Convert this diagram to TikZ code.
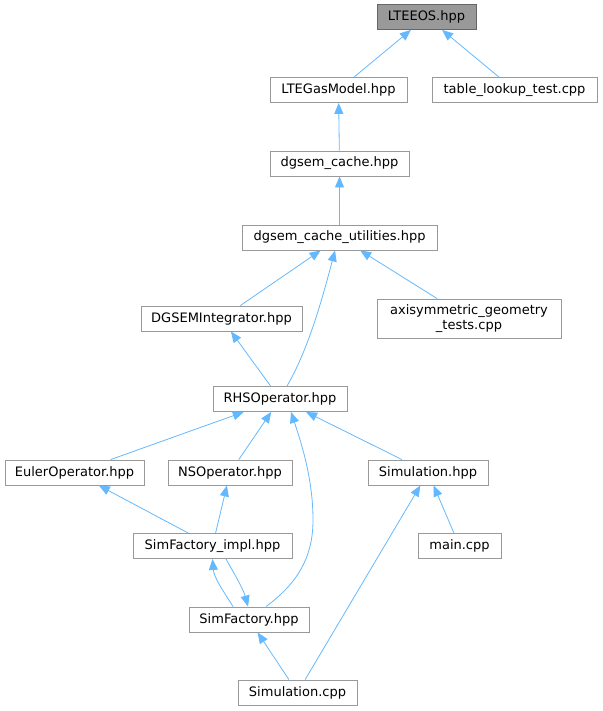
\documentclass[tikz,border=0pt]{standalone}
\usepackage{fontspec}
\newfontfamily\dejavu{DejaVu Sans}
\usetikzlibrary{arrows.meta}
\definecolor{edgeblue}{HTML}{63B8FF}
\definecolor{boxgray}{HTML}{999999}
\definecolor{rootgray}{HTML}{666666}
\tikzset{>={Triangle[length=11pt,width=9pt]}}
\tikzset{file/.style={draw=boxgray,line width=0.9pt,fill=white,inner sep=0pt,
    minimum height=25pt,align=center,font=\dejavu\fontsize{13}{15}\selectfont},
  root/.style={file,draw=rootgray,fill=boxgray},
  dep/.style={<-,draw=edgeblue,line width=0.8pt}}

\begin{document}
\begin{tikzpicture}[x=1pt,y=-1pt]
\useasboundingbox (0,0) rectangle (602,711);
\node[root,minimum width=99pt] (lteeos) at (426.5,17) {LTEEOS.hpp};
\node[file,minimum width=137pt] (ltegas) at (338.5,90) {LTEGasModel.hpp};
\node[file,minimum width=165pt] (tablelookup) at (514.5,90) {table\_lookup\_test.cpp};
\node[file,minimum width=139pt] (cache) at (339.5,163.5) {dgsem\_cache.hpp};
\node[file,minimum width=195pt] (cacheutil) at (339.5,237.5) {dgsem\_cache\_utilities.hpp};
\node[file,minimum width=161pt] (dgsemint) at (221.5,318.5) {DGSEMIntegrator.hpp};
\node[file,minimum width=184pt,minimum height=39pt] (axisym) at (469,318.5)
  {axisymmetric\_geometry\\\_tests.cpp};
\node[file,minimum width=134pt] (rhs) at (280,399) {RHSOperator.hpp};
\node[file,minimum width=139pt] (euler) at (74.5,472.5) {EulerOperator.hpp};
\node[file,minimum width=124pt] (ns) at (230,472.5) {NSOperator.hpp};
\node[file,minimum width=120pt] (simhpp) at (428,472.5) {Simulation.hpp};
\node[file,minimum width=159pt] (simimpl) at (212.5,546) {SimFactory\_impl.hpp};
\node[file,minimum width=83pt] (mainc) at (459.5,546) {main.cpp};
\node[file,minimum width=120pt] (simfac) at (249,619.5) {SimFactory.hpp};
\node[file,minimum width=119pt] (simcpp) at (297.5,692.5) {Simulation.cpp};

\draw[dep] (lteeos) -- (ltegas);
\draw[dep] (lteeos) -- (tablelookup);
\draw[dep] (ltegas) -- (cache);
\draw[dep] (cache) -- (cacheutil);
\draw[dep] (cacheutil) -- (dgsemint);
\draw[dep] (cacheutil) -- (axisym);
\draw[dep] ([xshift=-4.5pt]cacheutil.south) .. controls (322,300) and (308,350) .. ([xshift=7pt]rhs.north);
\draw[dep] (dgsemint) -- (rhs);
\draw[dep] (rhs) -- (euler);
\draw[dep] (rhs) -- (ns);
\draw[dep] (rhs) -- (simhpp);
\draw[dep] ([xshift=11pt]rhs.south) .. controls (302,445) and (313,480) .. (313,520)
  .. controls (313,560) and (295,585) .. ([xshift=17pt]simfac.north);
\draw[dep] (euler) -- (simimpl);
\draw[dep] (ns) -- (simimpl);
\draw[dep] (simhpp) -- (mainc);
\draw[dep] (simhpp) -- (simcpp);
\draw[dep] (simimpl.south) .. controls (214,578) and (224,592) .. ([xshift=-16pt]simfac.north);
\draw[dep] ([xshift=-1pt]simfac.north) .. controls (243,588) and (232,570) .. ([xshift=13.5pt]simimpl.south);
\draw[dep] (simfac) -- (simcpp);
\end{tikzpicture}
\end{document}
